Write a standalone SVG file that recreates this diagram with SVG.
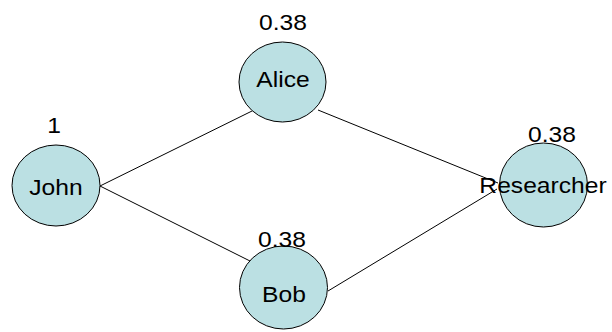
<svg xmlns="http://www.w3.org/2000/svg" width="612" height="332" viewBox="0 0 612 332">
<style>
.n{fill:#bbe0e3;stroke:#000;stroke-width:1}
.e{stroke:#000;stroke-width:1;fill:none}
text{font-family:"Liberation Sans",Arial,sans-serif;font-size:22px;fill:#000;text-anchor:middle}
</style>
<rect width="612" height="332" fill="#fff"/>
<g id="connectors">
<line class="e" x1="100" y1="186" x2="252" y2="111"/>
<line class="e" x1="100" y1="186" x2="252" y2="262"/>
<line class="e" x1="318" y1="110" x2="498" y2="183"/>
<line class="e" x1="328" y1="291" x2="497" y2="189"/>
</g>
<g id="john">
<ellipse class="n" cx="56" cy="185.5" rx="44" ry="40.5"/>
<text transform="translate(56,195) scale(1.12,1)">John</text>
<text transform="translate(54,133) scale(1.12,1)">1</text>
</g>
<g id="alice">
<ellipse class="n" cx="282.5" cy="82" rx="43.5" ry="40"/>
<text transform="translate(283,87) scale(1.12,1)">Alice</text>
<text transform="translate(283,30) scale(1.12,1)">0.38</text>
</g>
<g id="bob">
<ellipse class="n" cx="283.5" cy="287.5" rx="44" ry="41.5"/>
<text transform="translate(284,302) scale(1.12,1)">Bob</text>
<text transform="translate(282,247) scale(1.12,1)">0.38</text>
</g>
<g id="researcher">
<ellipse class="n" cx="543.5" cy="185" rx="44" ry="42"/>
<text transform="translate(543,193) scale(1.12,1)">Researcher</text>
<text transform="translate(552,142) scale(1.12,1)">0.38</text>
</g>
</svg>
